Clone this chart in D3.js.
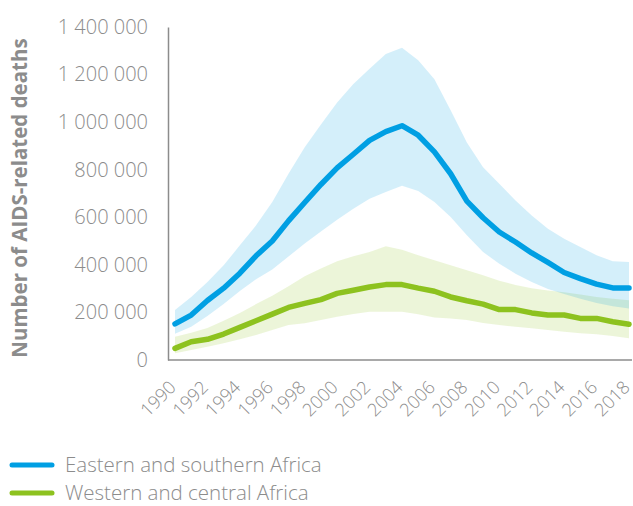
<!DOCTYPE html>
<html>
<head>
<meta charset="utf-8">
<script src="https://cdn.jsdelivr.net/npm/d3@7"></script>
<style>
  body { margin: 0; background: #fff; }
  svg text { font-family: "Open Sans", Lato, sans-serif; }
</style>
</head>
<body>
<svg id="chart" width="633" height="506"></svg>
<script>
const years = d3.range(1990, 2019);
const xTicks = d3.range(1990, 2019, 2);
const yTicks = [0, 200000, 400000, 600000, 800000, 1000000, 1200000, 1400000];

// Eastern and southern Africa (thousands)
const esaDeaths = [152, 189, 250, 302, 365, 438, 500, 585, 662, 738, 808, 865, 923, 960, 985, 945, 875, 783, 668, 598, 538, 496, 450, 410, 368, 342, 319, 303, 303];
const esaUpper = [210, 265, 328, 398, 482, 566, 664, 783, 894, 990, 1083, 1160, 1225, 1286, 1313, 1260, 1180, 1050, 914, 810, 741, 671, 608, 552, 510, 475, 440, 415, 412];
const esaLower = [110, 140, 185, 235, 290, 340, 380, 435, 490, 540, 590, 636, 678, 706, 733, 710, 664, 601, 524, 454, 405, 363, 328, 298, 278, 258, 240, 226, 217];

// Western and central Africa (thousands)
const wcaDeaths = [49, 77, 87, 109, 137, 165, 193, 221, 238, 254, 280, 293, 307, 317, 317, 302, 289, 265, 249, 235, 212, 212, 198, 189, 189, 175, 175, 161, 150];
const wcaUpper = [98, 115, 135, 165, 198, 235, 270, 310, 352, 385, 415, 436, 454, 478, 464, 440, 419, 398, 377, 356, 333, 315, 302, 292, 285, 275, 265, 258, 251];
const wcaLower = [28, 42, 56, 70, 87, 105, 126, 147, 154, 168, 182, 193, 203, 203, 203, 192, 179, 175, 168, 156, 147, 140, 133, 126, 119, 112, 108, 101, 91];

const seriesNames = ['Eastern and southern Africa', 'Western and central Africa'];
const seriesColors = ['#009fe3', '#8dc21f'];
const yAxisLabel = 'Number of AIDS-related deaths';

const svg = d3.select('#chart');
const width = +svg.attr('width');
const margin = {top: 27, right: 1, left: 168, bottom: 146};
const plotBottom = 360;

const x = d3.scaleLinear().domain([1990, 2018]).range([175, 629]);
const y = d3.scaleLinear().domain([0, 1400000]).range([plotBottom, margin.top]);

const fmt = d3.formatLocale({decimal: '.', thousands: ' ', grouping: [3], currency: ['', '']}).format(',');
const grey = '#8c8c8c';

const toRows = (mid, lo, hi) => years.map((yr, i) => ({year: yr, v: mid[i] * 1000, lo: lo[i] * 1000, hi: hi[i] * 1000}));
const series = [
  {name: seriesNames[0], color: seriesColors[0], rows: toRows(esaDeaths, esaLower, esaUpper)},
  {name: seriesNames[1], color: seriesColors[1], rows: toRows(wcaDeaths, wcaLower, wcaUpper)}
];

const area = d3.area().x(d => x(d.year)).y0(d => y(d.lo)).y1(d => y(d.hi));
const line = d3.line().x(d => x(d.year)).y(d => y(d.v));

// bands: green first, blue over it so the overlap blends
[series[1], series[0]].forEach(s => {
  svg.append('path')
    .datum(s.rows)
    .attr('d', area)
    .attr('fill', s.color)
    .attr('fill-opacity', 0.17);
});

[series[1], series[0]].forEach(s => {
  svg.append('path')
    .datum(s.rows)
    .attr('d', line)
    .attr('fill', 'none')
    .attr('stroke', s.color)
    .attr('stroke-width', 5.5)
    .attr('stroke-linejoin', 'round')
    .attr('stroke-linecap', 'round');
});

// y axis
const yAxisG = svg.append('g')
  .attr('transform', `translate(${margin.left},0)`)
  .call(d3.axisLeft(y).tickValues(yTicks).tickFormat(fmt).tickSize(0).tickPadding(20));
yAxisG.select('.domain').attr('stroke', grey).attr('stroke-width', 1.5);
yAxisG.selectAll('text')
  .attr('fill', grey)
  .style('font-size', '20px')
  .style('font-weight', 300);

// x axis
svg.append('line')
  .attr('x1', margin.left).attr('x2', width - margin.right)
  .attr('y1', plotBottom).attr('y2', plotBottom)
  .attr('stroke', grey).attr('stroke-width', 1.5);

const xAxisG = svg.append('g')
  .attr('transform', `translate(0,${plotBottom})`)
  .call(d3.axisBottom(x).tickValues(xTicks).tickFormat(d3.format('d')).tickSize(0));
xAxisG.select('.domain').remove();
xAxisG.selectAll('text')
  .attr('x', 0).attr('y', 0).attr('dy', '0.35em')
  .attr('transform', 'translate(-3,24) rotate(-45)')
  .attr('text-anchor', 'end')
  .attr('fill', grey)
  .style('font-size', '18px')
  .style('font-weight', 300);

// y axis title
svg.append('text')
  .attr('transform', `translate(27,${(plotBottom + 36) / 2}) rotate(-90)`)
  .attr('text-anchor', 'middle')
  .attr('fill', grey)
  .style('font-size', '20.5px')
  .style('font-weight', 700)
  .text(yAxisLabel);

// legend
const legend = svg.append('g').attr('transform', 'translate(10,465)');
series.forEach((s, i) => {
  const row = legend.append('g').attr('transform', `translate(0,${i * 28})`);
  row.append('line')
    .attr('x1', 2).attr('x2', 42)
    .attr('stroke', s.color)
    .attr('stroke-width', 5)
    .attr('stroke-linecap', 'round');
  row.append('text')
    .attr('x', 55).attr('dy', '0.35em')
    .attr('fill', grey)
    .style('font-size', '20.5px')
    .style('font-weight', 300)
    .text(s.name);
});
</script>
</body>
</html>
